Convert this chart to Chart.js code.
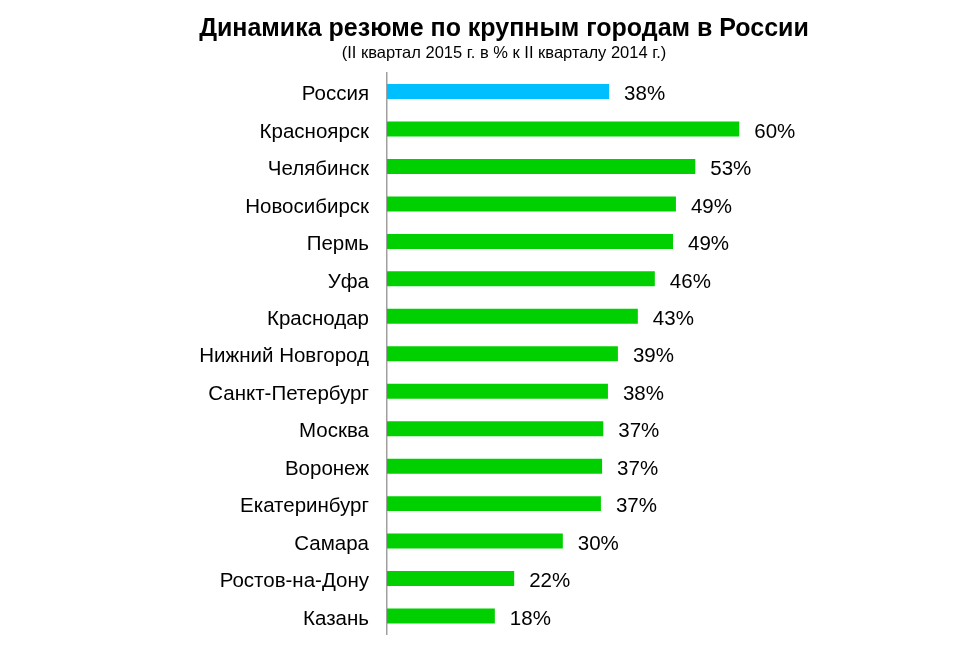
<!DOCTYPE html>
<html>
<head>
<meta charset="utf-8">
<script src="https://cdn.jsdelivr.net/npm/chart.js@4"></script>
<style>
  html, body { margin: 0; padding: 0; background: #fff; overflow: hidden; }
  canvas { display: block; }
</style>
</head>
<body>
<canvas id="rezumeChart" width="976" height="645"></canvas>
<script>
const cities = ['Россия', 'Красноярск', 'Челябинск', 'Новосибирск', 'Пермь', 'Уфа', 'Краснодар',
    'Нижний Новгород', 'Санкт-Петербург', 'Москва', 'Воронеж', 'Екатеринбург', 'Самара',
    'Ростов-на-Дону', 'Казань'];
const growth = [37.9, 60.1, 52.6, 49.3, 48.8, 45.7, 42.8, 39.4, 37.7, 36.9, 36.7, 36.5, 30.0, 21.7, 18.4];
const barColors = cities.map(c => c === 'Россия' ? '#00BFFF' : '#00D000');

const FONT = "'Liberation Sans', Arial, sans-serif";

// подписи значений справа от столбцов
const valueLabels = {
    id: 'valueLabels',
    afterDatasetsDraw(chart) {
        const c = chart.ctx;
        const meta = chart.getDatasetMeta(0);
        c.save();
        c.font = '20.5px ' + FONT;
        c.fillStyle = '#000';
        c.textBaseline = 'middle';
        c.textAlign = 'left';
        meta.data.forEach((bar, i) => {
            c.fillText(Math.round(growth[i]) + '%', bar.x + 15, bar.y + 3);
        });
        c.restore();
    }
};

const ctx = document.getElementById('rezumeChart');
new Chart(ctx, {
    type: 'bar',
    data: {
        labels: cities,
        datasets: [{
            data: growth,
            backgroundColor: barColors,
            borderWidth: 0,
            barPercentage: 0.4,
            categoryPercentage: 1
        }]
    },
    options: {
        indexAxis: 'y',
        responsive: false,
        animation: false,
        layout: { padding: { left: 32, right: 0, top: 0, bottom: 10 } },
        scales: {
            x: {
                display: false,
                min: 0,
                max: 100.5
            },
            y: {
                // тики невидимы, но их длина задаёт отступ подписей от оси
                grid: { display: false, drawTicks: true, tickLength: 18 },
                border: { display: true, color: '#a0a0a0', width: 1.5 },
                ticks: {
                    color: '#000',
                    font: { family: FONT, size: 20.5, lineHeight: 1 },
                    padding: 0,
                    labelOffset: 3
                },
                afterFit(scale) { scale.width = 355; }
            }
        },
        plugins: {
            legend: { display: false },
            tooltip: { enabled: false },
            title: {
                display: true,
                text: 'Динамика резюме по крупным городам в России',
                color: '#000',
                font: { family: FONT, size: 25, weight: 'bold' },
                padding: { top: 14, bottom: 0 }
            },
            subtitle: {
                display: true,
                text: '(II квартал 2015 г. в % к II кварталу 2014 г.)',
                color: '#000',
                font: { family: FONT, size: 16.5 },
                padding: { top: 0, bottom: 9 }
            }
        }
    },
    plugins: [valueLabels]
});
</script>
</body>
</html>
